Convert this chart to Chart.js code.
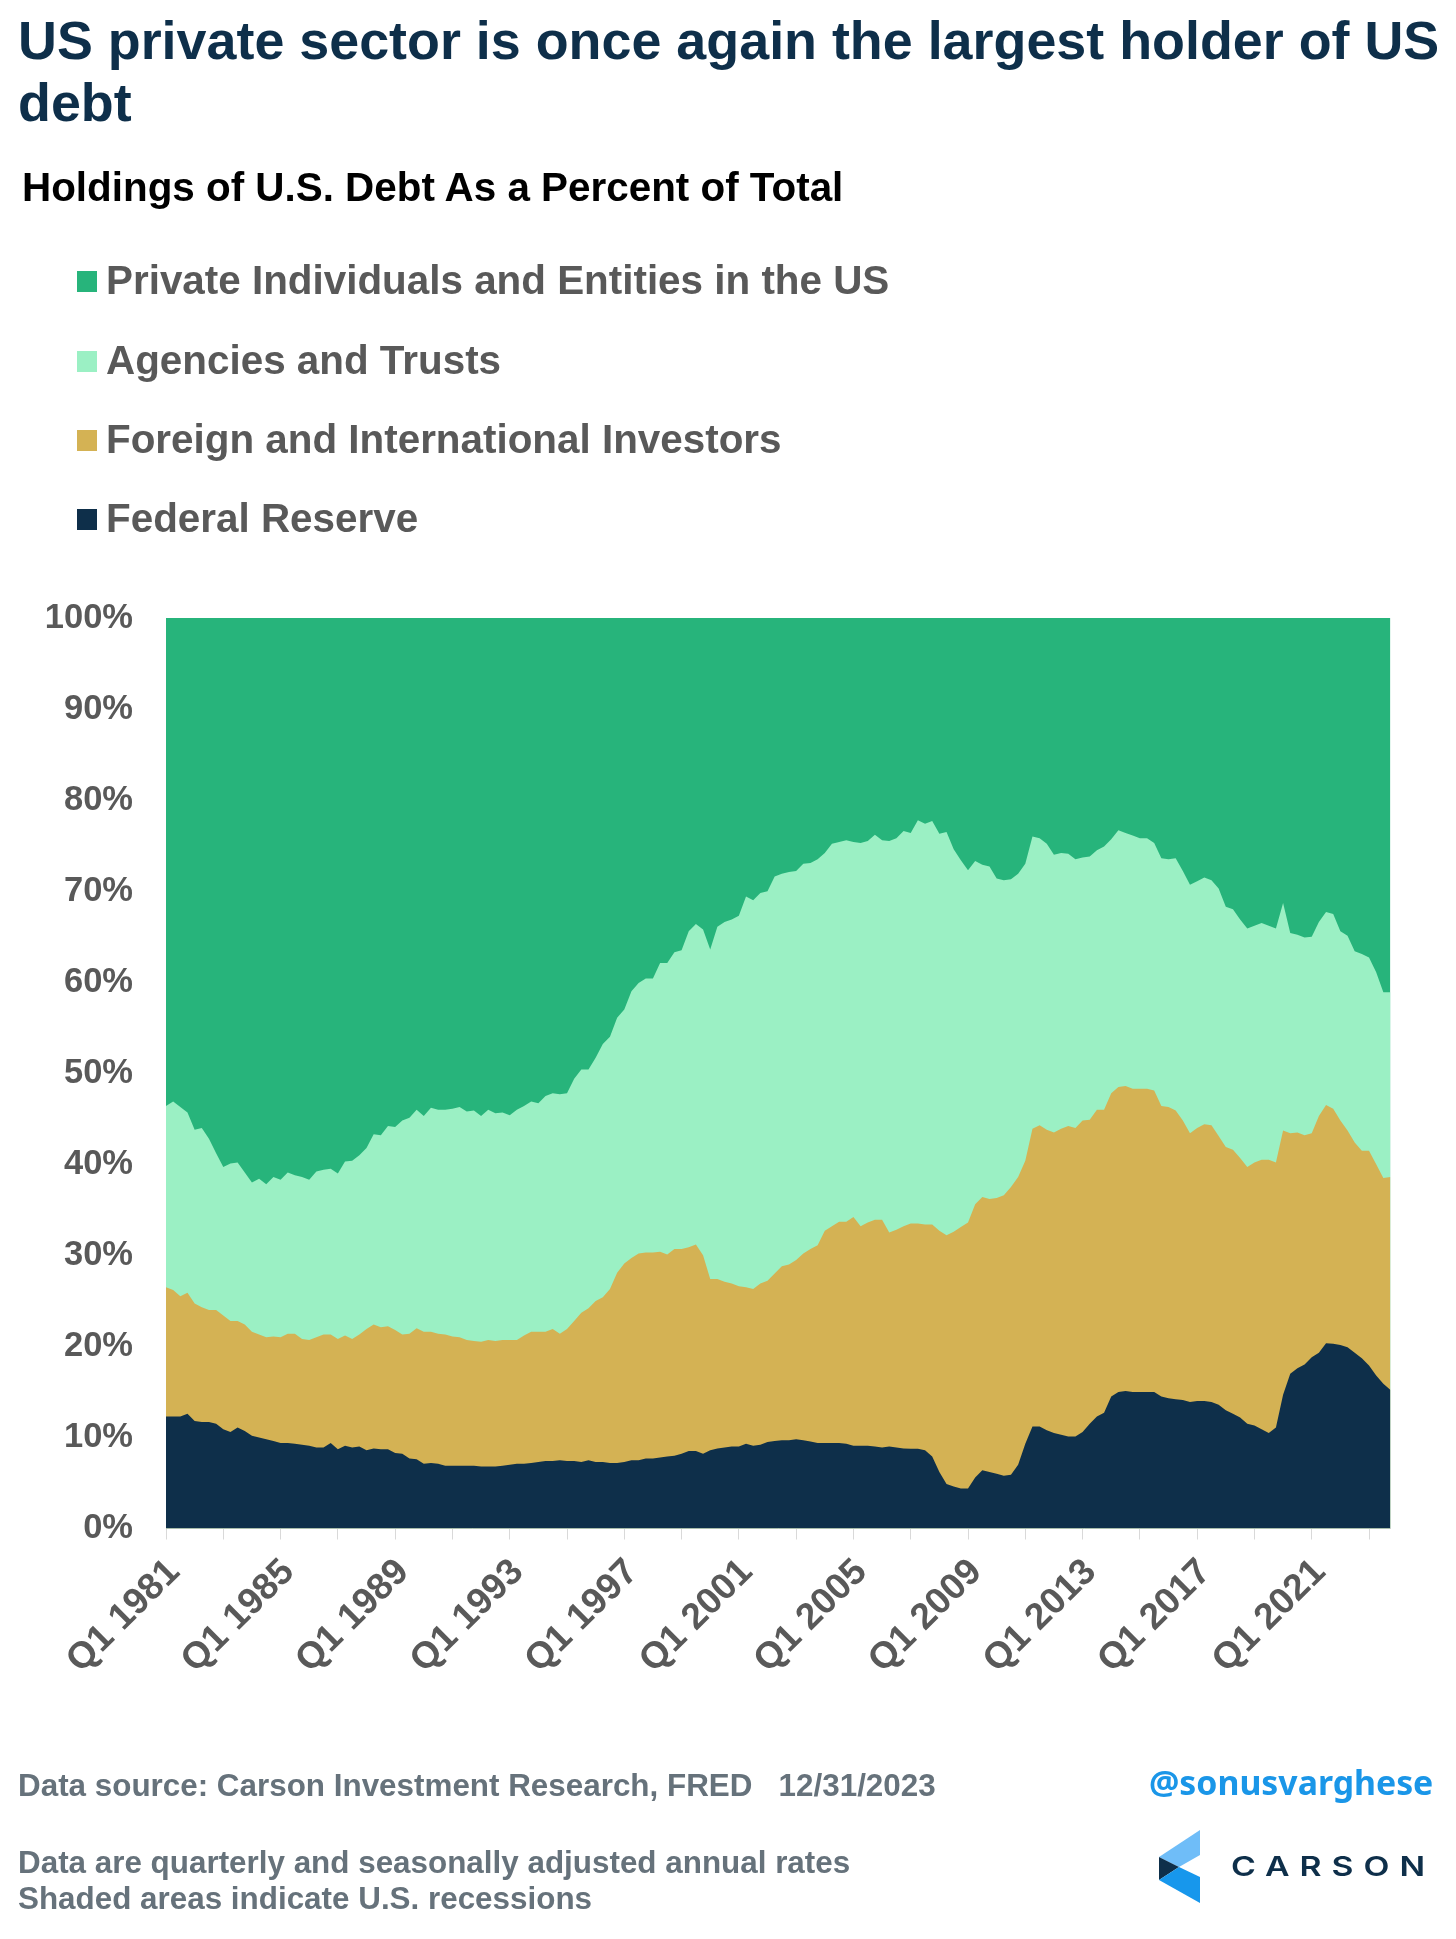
<!DOCTYPE html>
<html><head><meta charset="utf-8">
<style>
html,body{margin:0;padding:0;background:#fff;width:1456px;height:1939px;overflow:hidden}
body{position:relative;font-family:"Liberation Sans",Arial,sans-serif;font-weight:bold}
canvas{position:absolute;left:0;top:0}
.t{position:absolute;white-space:pre;line-height:1;margin:0}
.sw{position:absolute;left:77px;width:20px;height:21px}
</style>
<script src="https://cdn.jsdelivr.net/npm/chart.js@4/dist/chart.umd.min.js"></script>
</head><body>
<canvas id="c" width="1456" height="1939"></canvas>
<h1 class="t" style="left:18px;top:13.5px;font-size:53.85px;color:#0e2f4a;font-weight:bold">US private sector is once again the largest holder of US</h1>
<div class="t" style="left:18px;top:75.5px;font-size:53.85px;color:#0e2f4a">debt</div>
<h2 class="t" style="left:22px;top:167px;font-size:40.4px;color:#000;font-weight:bold">Holdings of U.S. Debt As a Percent of Total</h2>
<div id="legend"></div>
<div class="t foot" style="left:18px;top:1770px;font-size:31.4px;color:#66727b">Data source: Carson Investment Research, FRED   12/31/2023</div>
<div class="t foot" style="left:18px;top:1846.5px;font-size:31.4px;color:#66727b">Data are quarterly and seasonally adjusted annual rates</div>
<div class="t foot" style="left:18px;top:1882.5px;font-size:31.4px;color:#66727b">Shaded areas indicate U.S. recessions</div>
<div class="t" style="left:1149px;top:1766px;font-size:33.8px;color:#1a96e8;font-family:'Noto Sans'">@sonusvarghese</div>
<svg style="position:absolute;left:1155px;top:1825px" width="50" height="85" viewBox="0 0 50 85">
<polygon points="45,5 45,30 24,42 4,32" fill="#6fbdf8"/>
<polygon points="4,32 24,42 4,55" fill="#0e2f4a"/>
<polygon points="4,55 24,42 45,52 45,78" fill="#1797ec"/>
</svg>
<div class="t" style="left:1231px;top:1853px;font-size:27px;letter-spacing:8px;color:#0e2f4a;font-family:'Inter';font-weight:600;transform:scaleX(1.25);transform-origin:left top">CARSON</div>
<script>
const startYear = 1981;
const categories = [];
for (let y = startYear; y <= 2023; y++) for (let q = 1; q <= 4; q++) categories.push('Q' + q + ' ' + y);

// Upper edge of each band, % of total (quarterly)
const federalReserve = [
12.3,12.3,12.3,12.6,11.8,11.7,11.7,11.5,10.9,10.6,
11.1,10.7,10.2,10.0,9.8,9.6,9.4,9.4,9.3,9.2,
9.1,8.9,8.9,9.4,8.7,9.1,8.9,9.0,8.6,8.8,
8.7,8.7,8.3,8.2,7.7,7.6,7.1,7.2,7.1,6.9,
6.9,6.9,6.9,6.9,6.8,6.8,6.8,6.9,7.0,7.1,
7.1,7.2,7.3,7.4,7.4,7.5,7.4,7.4,7.3,7.5,
7.3,7.3,7.2,7.2,7.3,7.5,7.5,7.7,7.7,7.8,
7.9,8.0,8.2,8.5,8.5,8.2,8.6,8.8,8.9,9.0,
9.0,9.3,9.1,9.2,9.5,9.6,9.7,9.7,9.8,9.7,
9.55,9.4,9.4,9.4,9.4,9.3,9.1,9.1,9.1,9.0,
8.9,9.0,8.9,8.8,8.75,8.75,8.6,7.9,6.2,4.9,
4.6,4.4,4.4,5.6,6.4,6.2,6.0,5.8,5.9,7.0,
9.3,11.2,11.2,10.8,10.5,10.3,10.1,10.1,10.6,11.5,
12.3,12.7,14.5,15.0,15.1,15.0,15.0,15.0,15.0,14.5,
14.3,14.2,14.1,13.9,14.0,14.0,13.9,13.6,13.0,12.6,
12.2,11.5,11.3,10.9,10.5,11.1,14.7,17.0,17.6,18.0,
18.8,19.3,20.35,20.3,20.15,19.9,19.3,18.7,17.9,16.8,
15.9,15.2];
const foreignTop = [
26.5,26.2,25.5,25.9,24.7,24.3,24.0,24.0,23.4,22.8,
22.8,22.4,21.6,21.3,21.0,21.1,21.0,21.4,21.4,20.8,
20.7,21.0,21.3,21.3,20.8,21.2,20.8,21.3,21.9,22.4,
22.1,22.2,21.8,21.3,21.4,22.0,21.6,21.6,21.4,21.3,
21.1,21.0,20.7,20.6,20.5,20.7,20.6,20.7,20.7,20.7,
21.2,21.6,21.6,21.6,21.9,21.4,21.9,22.8,23.7,24.2,
25.0,25.4,26.3,28.1,29.1,29.7,30.2,30.3,30.3,30.4,
30.1,30.7,30.7,30.9,31.2,30.0,27.4,27.4,27.1,26.9,
26.6,26.5,26.3,26.9,27.2,28.0,28.8,29.0,29.5,30.2,
30.7,31.1,32.7,33.2,33.7,33.7,34.2,33.2,33.6,33.9,
33.9,32.5,32.8,33.2,33.5,33.5,33.4,33.4,32.7,32.2,
32.6,33.1,33.6,35.6,36.4,36.2,36.3,36.6,37.5,38.6,
40.4,43.9,44.3,43.8,43.5,43.9,44.2,44.0,44.8,44.9,
46.0,46.0,47.8,48.5,48.6,48.3,48.3,48.3,48.1,46.4,
46.3,45.9,44.8,43.4,44.0,44.4,44.3,43.1,41.9,41.6,
40.7,39.7,40.2,40.5,40.5,40.2,43.7,43.4,43.5,43.2,
43.4,45.3,46.5,46.1,44.8,43.7,42.4,41.5,41.5,40.0,
38.5,38.6];
const agenciesTop = [
46.4,46.9,46.3,45.7,43.8,44.0,42.8,41.2,39.7,40.1,
40.2,39.1,38.0,38.4,37.8,38.6,38.3,39.1,38.8,38.6,
38.3,39.2,39.4,39.5,39.0,40.3,40.4,41.0,41.8,43.3,
43.2,44.2,44.1,44.8,45.1,46.0,45.3,46.2,46.0,46.0,
46.1,46.3,45.8,45.9,45.3,46.0,45.6,45.7,45.4,46.0,
46.4,46.9,46.7,47.5,47.8,47.7,47.8,49.4,50.4,50.4,
51.7,53.2,54.0,56.1,57.0,59.0,59.9,60.4,60.4,62.1,
62.1,63.3,63.5,65.6,66.4,65.8,63.6,66.1,66.6,66.9,
67.3,69.4,69.0,69.8,70.0,71.6,71.9,72.1,72.2,73.0,
73.1,73.5,74.2,75.2,75.4,75.6,75.4,75.3,75.5,76.2,
75.6,75.5,75.8,76.6,76.4,77.8,77.4,77.7,76.3,76.5,
74.6,73.4,72.3,73.3,72.9,72.7,71.4,71.2,71.3,71.9,
73.0,76.0,75.8,75.2,74.0,74.2,74.1,73.5,73.7,73.8,
74.5,74.9,75.7,76.7,76.4,76.1,75.8,75.8,75.3,73.6,
73.5,73.6,72.2,70.7,71.1,71.5,71.2,70.3,68.3,68.0,
66.9,65.9,66.2,66.5,66.2,65.9,68.7,65.4,65.2,64.9,
65.0,66.6,67.7,67.5,65.6,65.1,63.4,63.1,62.7,61.1,
58.9,58.9];
const privateTop = categories.map(() => 100);

const seriesNames = ['Private Individuals and Entities in the US','Agencies and Trusts','Foreign and International Investors','Federal Reserve'];
const seriesColors = ['#27b47b','#9bf0c4','#d4b254','#0e2f4a'];
const legendBaselines = [294,374,452.5,531.5];

if ([federalReserve,foreignTop,agenciesTop].some(a => a.length !== categories.length)) throw new Error('length');

const lg = document.getElementById('legend');
seriesNames.forEach((n,i) => {
  const s = document.createElement('div'); s.className='sw'; s.style.top=(legendBaselines[i]-23)+'px'; s.style.background=seriesColors[i]; lg.appendChild(s);
  const t = document.createElement('div'); t.className='t'; t.textContent=n;
  t.style.cssText='left:106px;font-size:40.4px;color:#595959;top:'+(legendBaselines[i]-34)+'px'; lg.appendChild(t);
});

const font = {family:'"Liberation Sans"',size:34.5,weight:'bold'};
const xfont = {family:'"Liberation Sans"',size:37,weight:'bold'};
const ds = (label,data,color) => ({label,data,backgroundColor:color,borderWidth:0,pointRadius:0,tension:0,fill:'origin'});
new Chart(document.getElementById('c'),{
  type:'line',
  data:{labels:categories,datasets:[
    ds(seriesNames[3],federalReserve,seriesColors[3]),
    ds(seriesNames[2],foreignTop,seriesColors[2]),
    ds(seriesNames[1],agenciesTop,seriesColors[1]),
    ds(seriesNames[0],privateTop,seriesColors[0])
  ]},
  options:{
    responsive:false,animation:false,devicePixelRatio:1,
    layout:{autoPadding:false,padding:{top:618,left:0,right:65.5,bottom:190.5}},
    plugins:{legend:{display:false},title:{display:false},tooltip:{enabled:false}},
    scales:{
      x:{
        offset:false,
        afterBuildTicks:s=>{s.ticks=s.ticks.filter((t,i)=>t.value%8===0);},
        afterFit:s=>{s.height=220;s.paddingLeft=0;s.paddingRight=0;},
        grid:{drawOnChartArea:false,drawTicks:true,tickLength:11,color:'#d9d9d9',lineWidth:1},
        border:{color:'#d9d9d9',display:true},
        ticks:{autoSkip:false,minRotation:45,maxRotation:45,color:'#595959',font:xfont,padding:11,labelOffset:8,
          callback(v){return v%16===0?this.getLabelForValue(v):'';}}
      },
      y:{
        min:0,max:100,
        afterFit:s=>{s.width=166;},
        grid:{display:false},border:{display:false},
        ticks:{stepSize:10,color:'#595959',font,padding:25,callback:v=>v+'%'}
      }
    }
  }
});
</script>
</body></html>
